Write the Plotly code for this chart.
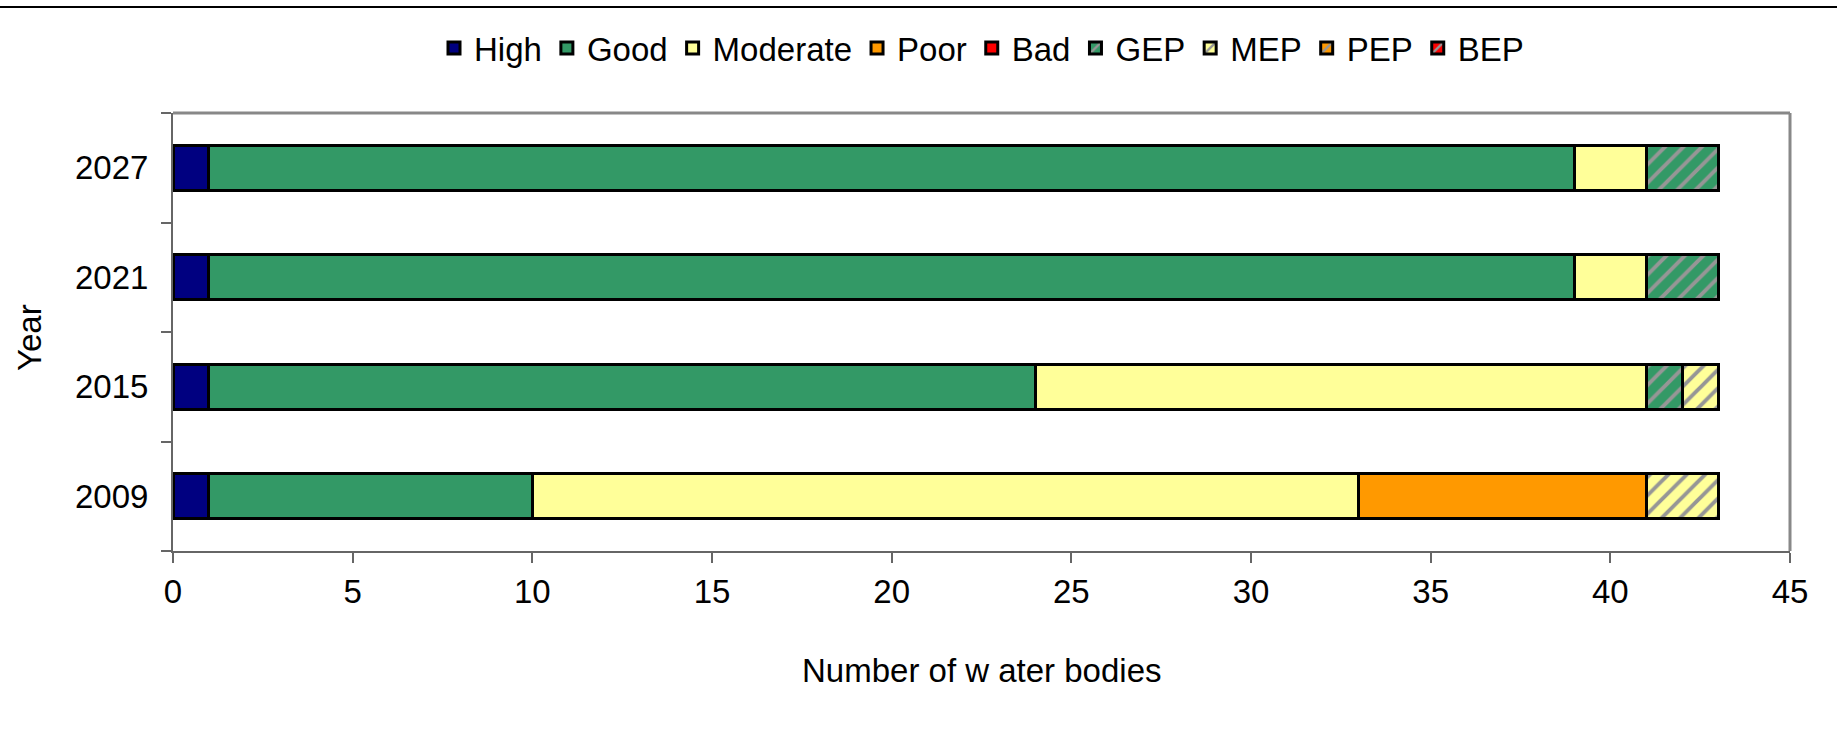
import plotly.graph_objects as go

years = ["2009", "2015", "2021", "2027"]
series_names = ["High", "Good", "Moderate", "Poor", "Bad", "GEP", "MEP", "PEP", "BEP"]
high = [1, 1, 1, 1]
good = [9, 23, 38, 38]
moderate = [23, 17, 2, 2]
poor = [8, 0, 0, 0]
bad = [0, 0, 0, 0]
gep = [0, 1, 2, 2]
mep = [2, 1, 0, 0]
pep = [0, 0, 0, 0]
bep = [0, 0, 0, 0]
x_ticks = [0, 5, 10, 15, 20, 25, 30, 35, 40, 45]

values = [high, good, moderate, poor, bad, gep, mep, pep, bep]
colors = ["#000080", "#339966", "#FFFF99", "#FF9900", "#FF0000",
          "#339966", "#FFFF99", "#FF9900", "#FF0000"]
hatched = [False, False, False, False, False, True, True, True, True]

W, H = 1837, 739
L, R, T, B = 173, 47, 113, 188
pw, ph = W - L - R, H - T - B
FONT = "Liberation Sans, Arial, sans-serif"
FS = 33

fig = go.Figure()
for name, vals, col, hat in zip(series_names, values, colors, hatched):
    marker = dict(color=col, line=dict(color="black", width=3))
    if hat:
        marker["pattern"] = dict(shape="/", fgcolor="#969696", bgcolor=col,
                                 size=13, solidity=0.3, fillmode="replace")
    fig.add_trace(go.Bar(y=years, x=vals, name=name, orientation="h", marker=marker))

fig.update_layout(
    width=W, height=H,
    barmode="stack", bargap=0.59,
    margin=dict(l=L, r=R, t=T, b=B),
    paper_bgcolor="white", plot_bgcolor="white",
    font=dict(family=FONT, size=FS, color="black"),
    legend=dict(orientation="h", x=0.5, xanchor="center", xref="paper",
                y=1 - 48 / H, yref="container", yanchor="middle",
                font=dict(size=FS), itemwidth=30, traceorder="normal",
                bgcolor="rgba(0,0,0,0)"),
    xaxis=dict(range=[0, 45], tickvals=x_ticks, ticks="outside", ticklen=10,
               tickwidth=2, tickcolor="#666", showline=True, linecolor="#666",
               linewidth=2, showgrid=False, zeroline=False,
               tickfont=dict(size=FS), fixedrange=True),
    yaxis=dict(categoryorder="array", categoryarray=years, ticks="outside",
               tickson="boundaries", ticklen=10, tickwidth=2, tickcolor="#666",
               showline=True, linecolor="#666", linewidth=2, showgrid=False,
               tickfont=dict(size=FS), ticklabelstandoff=16, fixedrange=True),
    showlegend=True,
)

# plot area border (top and right)
fig.add_shape(type="line", xref="paper", yref="paper", x0=0, x1=1, y0=1, y1=1,
              line=dict(color="#888", width=3), layer="above")
fig.add_shape(type="line", xref="paper", yref="paper", x0=1, x1=1, y0=0, y1=1,
              line=dict(color="#888", width=3), layer="above")
# top separator line
ytop = (H - B - 7) / ph
fig.add_shape(type="line", xref="paper", yref="paper", x0=-L / pw, x1=(W - L) / pw,
              y0=ytop, y1=ytop, line=dict(color="black", width=2))

# axis titles
fig.add_annotation(text="Number of w ater bodies", xref="paper", yref="paper",
                   x=0.5, y=-(670 - (H - B)) / ph, showarrow=False,
                   xanchor="center", yanchor="middle", font=dict(size=FS))
fig.add_annotation(text="Year", xref="paper", yref="paper",
                   x=-(L - 29) / pw, y=0.5 - 6 / ph, showarrow=False, textangle=-90,
                   xanchor="center", yanchor="middle", font=dict(size=FS))

fig.write_html("out.html", config={"displayModeBar": False},
               post_script="document.body.style.margin='0px';document.body.style.overflow='hidden';")
